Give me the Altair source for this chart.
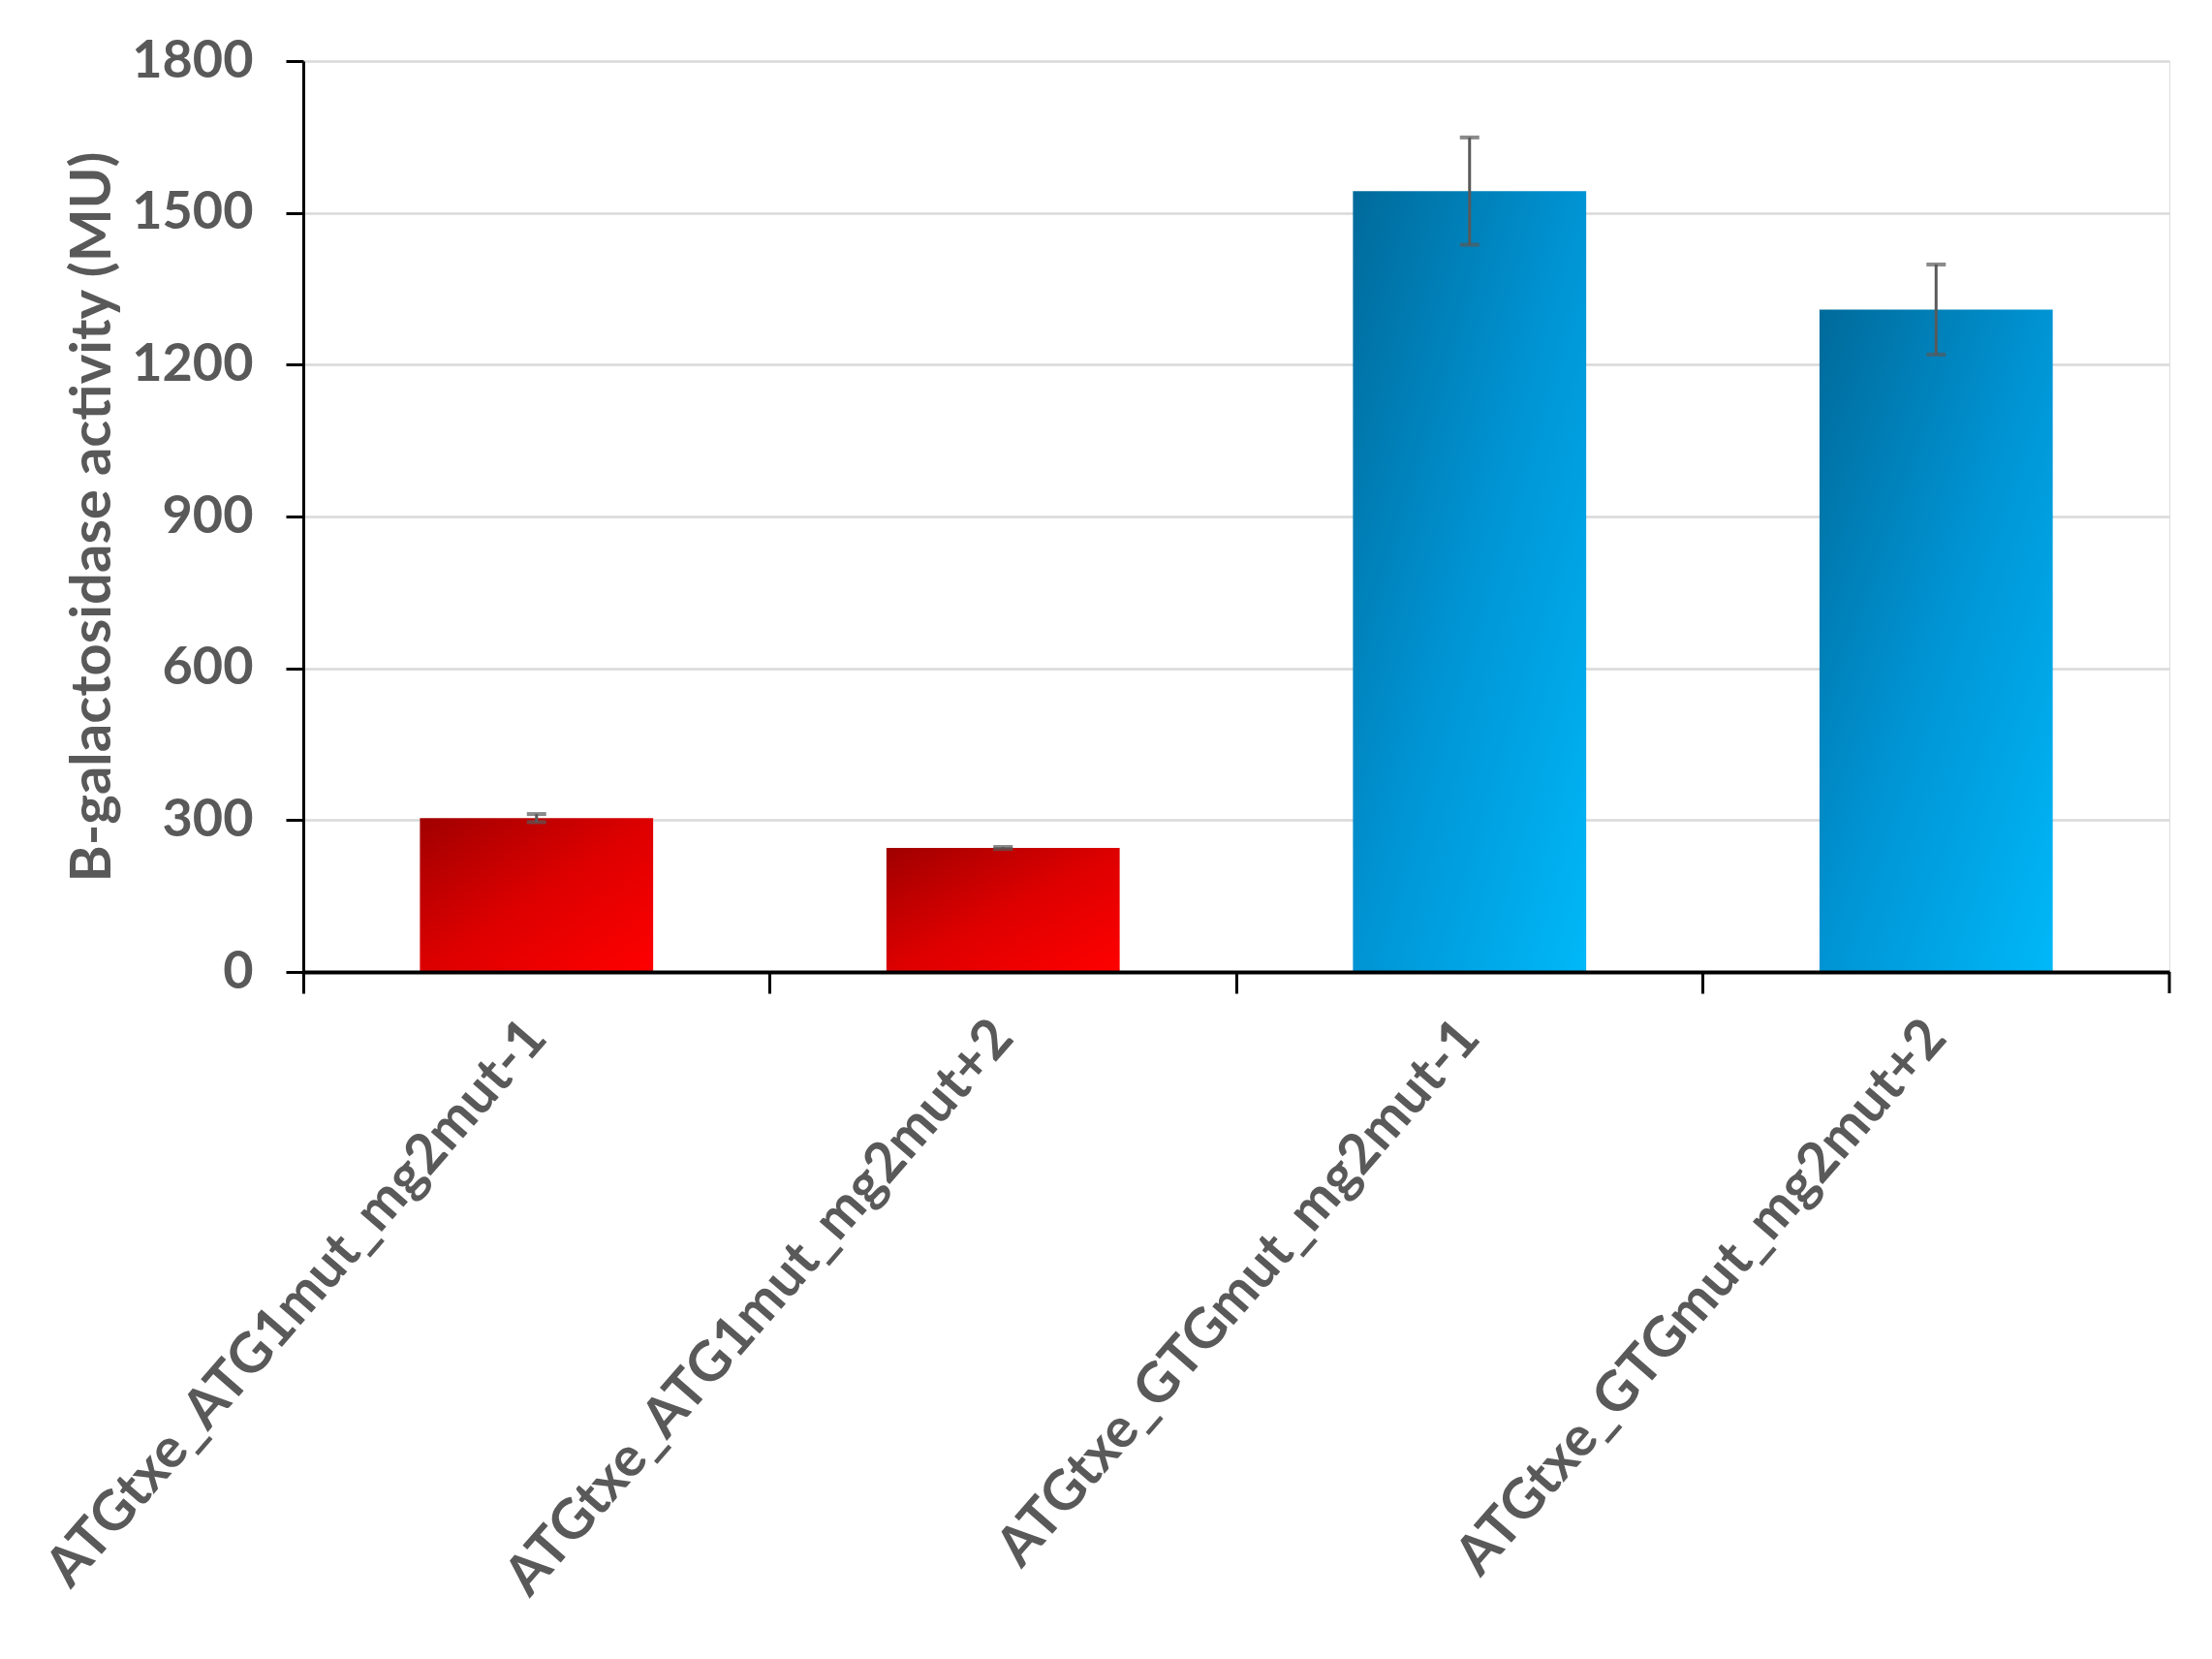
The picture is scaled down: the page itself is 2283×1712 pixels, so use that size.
import altair as alt
import pandas as pd

categories = [
    "ATGtxe_ATG1mut_mg2mut-1",
    "ATGtxe_ATG1mut_mg2mut+2",
    "ATGtxe_GTGmut_mg2mut-1",
    "ATGtxe_GTGmut_mg2mut+2",
]
values = [304, 245, 1543, 1309]
errors = [8, 2, 106, 89]
groups = ["red", "red", "blue", "blue"]
y_ticks = [0, 300, 600, 900, 1200, 1500, 1800]

df = pd.DataFrame({"cat": categories, "val": values, "err": errors, "grp": groups})
df["lo"] = df["val"] - df["err"]
df["hi"] = df["val"] + df["err"]

FONT = "Lato"
GRAY = "#595959"

red_grad = alt.Gradient(
    gradient="linear", x1=0, y1=0, x2=1, y2=1,
    stops=[alt.GradientStop(color="#A00000", offset=0),
           alt.GradientStop(color="#DD0000", offset=0.5),
           alt.GradientStop(color="#FF0000", offset=1)])
blue_grad = alt.Gradient(
    gradient="linear", x1=0, y1=0, x2=1, y2=1,
    stops=[alt.GradientStop(color="#006A9A", offset=0),
           alt.GradientStop(color="#0094D4", offset=0.5),
           alt.GradientStop(color="#00B8F8", offset=1)])

xscale = alt.Scale(domain=categories, paddingInner=0, paddingOuter=0)
xenc = alt.X("cat:N", scale=xscale, sort=categories, title=None,
             axis=alt.Axis(labelAngle=-49, labelFont=FONT, labelFontSize=57,
                           labelFontWeight="bold", labelColor=GRAY,
                           labelPadding=36, labelLimit=1000,
                           domainColor="black", domainWidth=4,
                           tickColor="black", tickWidth=3, tickSize=22,
                           bandPosition=0, grid=False, zindex=1))
yenc = alt.Y("val:Q", scale=alt.Scale(domain=[0, 1800], nice=False),
             title="B-galactosidase activity (MU)",
             axis=alt.Axis(values=y_ticks, format="d",
                           labelFont=FONT, labelFontSize=54, labelFontWeight="bold",
                           labelColor=GRAY, labelPadding=34,
                           titleFont=FONT, titleFontSize=58, titleFontWeight="bold",
                           titleColor=GRAY, titlePadding=10,
                           domainColor="black", domainWidth=3,
                           tickColor="black", tickWidth=3, tickSize=18,
                           gridColor="#D9D9D9", gridWidth=2.5))

base = alt.Chart(df)
bw = alt.RelativeBandSize(0.5)

bars_red = base.transform_filter(alt.datum.grp == "red").mark_bar(
    fill=red_grad, width=bw).encode(x=xenc, y=yenc)
bars_blue = base.transform_filter(alt.datum.grp == "blue").mark_bar(
    fill=blue_grad, width=bw).encode(x=xenc, y=yenc)

xplain = alt.X("cat:N", scale=xscale, sort=categories)
err_rule = base.mark_rule(color=GRAY, strokeWidth=3).encode(
    x=xplain, y=alt.Y("lo:Q"), y2="hi:Q")
cap_hi = base.mark_tick(color=GRAY, size=20, thickness=4).encode(
    x=xplain, y=alt.Y("hi:Q"))
cap_lo = base.mark_tick(color=GRAY, size=20, thickness=4).encode(
    x=xplain, y=alt.Y("lo:Q"))

end_tick = alt.Chart(pd.DataFrame({"cat": [categories[-1]]})).mark_rule(
    color="black", strokeWidth=3).encode(
    x=alt.X("cat:N", scale=xscale, sort=categories, bandPosition=1),
    y=alt.value(940), y2=alt.value(962))

chart = alt.layer(bars_red, bars_blue, err_rule, cap_hi, cap_lo, end_tick).properties(
    width=1926, height=940,
    autosize=alt.AutoSizeParams(type="none"),
    padding={"left": 305, "top": 55, "right": 30, "bottom": 690},
).configure_view(stroke=None).configure(background="white")

chart.save("out.html", embed_options={"renderer": "svg", "actions": False})
